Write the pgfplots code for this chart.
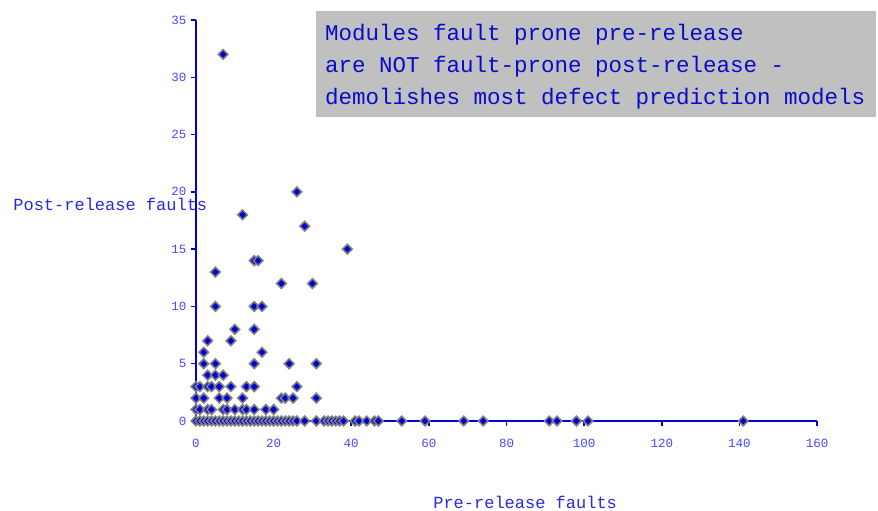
\documentclass[border=0pt]{standalone}
\usepackage{pgfplots}
\pgfplotsset{compat=1.18}
\usepackage{fontspec}
\setmainfont{Liberation Mono}
\definecolor{axblue}{HTML}{0000D0}
\definecolor{ticklab}{HTML}{4848FF}
\definecolor{labblue}{HTML}{2828E0}
\definecolor{titleblue}{HTML}{0A0ACC}
\definecolor{boxgray}{HTML}{C0C0C0}
\definecolor{mkgray}{HTML}{808080}
\definecolor{mkblue}{HTML}{0000D8}
\pgfplotstableread{
x y
0 0
1 0
2 0
3 0
4 0
5 0
6 0
7 0
8 0
9 0
10 0
11 0
12 0
13 0
14 0
15 0
16 0
17 0
18 0
19 0
20 0
21 0
22 0
23 0
24 0
25 0
26 0
28 0
31 0
33 0
34 0
35 0
36 0
37 0
38 0
41 0
42 0
44 0
46 0
47 0
53 0
59 0
69 0
74 0
91 0
93 0
98 0
101 0
141 0
0 1
1 1
3 1
4 1
7 1
8 1
10 1
12 1
13 1
15 1
18 1
20 1
0 2
2 2
6 2
8 2
12 2
22 2
23 2
25 2
31 2
0 3
1 3
3 3
4 3
6 3
9 3
13 3
15 3
26 3
3 4
5 4
7 4
2 5
5 5
15 5
24 5
31 5
2 6
17 6
3 7
9 7
10 8
15 8
5 10
15 10
17 10
22 12
30 12
5 13
15 14
16 14
39 15
28 17
12 18
26 20
7 32
}\faults
\begin{document}
\begin{tikzpicture}
\path[use as bounding box] (-196bp,-90bp) rectangle (682bp,421bp);
\begin{axis}[
  at={(0,0)}, anchor=south west,
  scale only axis, width=621bp, height=401bp,
  xmin=0, xmax=160, ymin=0, ymax=35,
  axis lines=left,
  axis line style={axblue, line width=2bp, -},
  xtick={0,20,...,160}, ytick={0,5,...,35},
  tick align=outside, major tick length=5bp,
  tick style={axblue, line width=1.5bp},
  tick label style={font=\fontsize{12.5bp}{14bp}\selectfont, text=ticklab},
  xticklabel style={yshift=-10bp},
  yticklabel style={xshift=-1bp},
  /pgf/number format/assume math mode=true,
  every axis y label/.style={at={(axis description cs:-0.138,0.539)}, anchor=center},
  every axis x label/.style={at={(axis description cs:0.53,-0.203)}, anchor=center},
  label style={font=\fontsize{17bp}{18bp}\selectfont, text=labblue, inner sep=0pt},
  xlabel={Pre-release faults},
  ylabel={Post-release faults},
  clip=false,
]
\addplot[only marks, mark=square*, mark size=3.4bp,
  mark options={rotate=45, fill=mkblue, draw=mkgray, line width=1.6bp}]
  table[x=x, y=y] {\faults};
\end{axis}
\fill[boxgray] (120bp,304bp) rectangle (680bp,410bp);
\begin{scope}[every node/.style={anchor=base west, inner sep=0pt, text=titleblue, font=\fontsize{22.5bp}{32bp}\selectfont}]
\node at (129bp,380bp) {Modules fault prone pre-release};
\node at (129bp,348bp) {are NOT fault-prone post-release -};
\node at (129bp,316bp) {demolishes most defect prediction models};
\end{scope}
\end{tikzpicture}
\end{document}
